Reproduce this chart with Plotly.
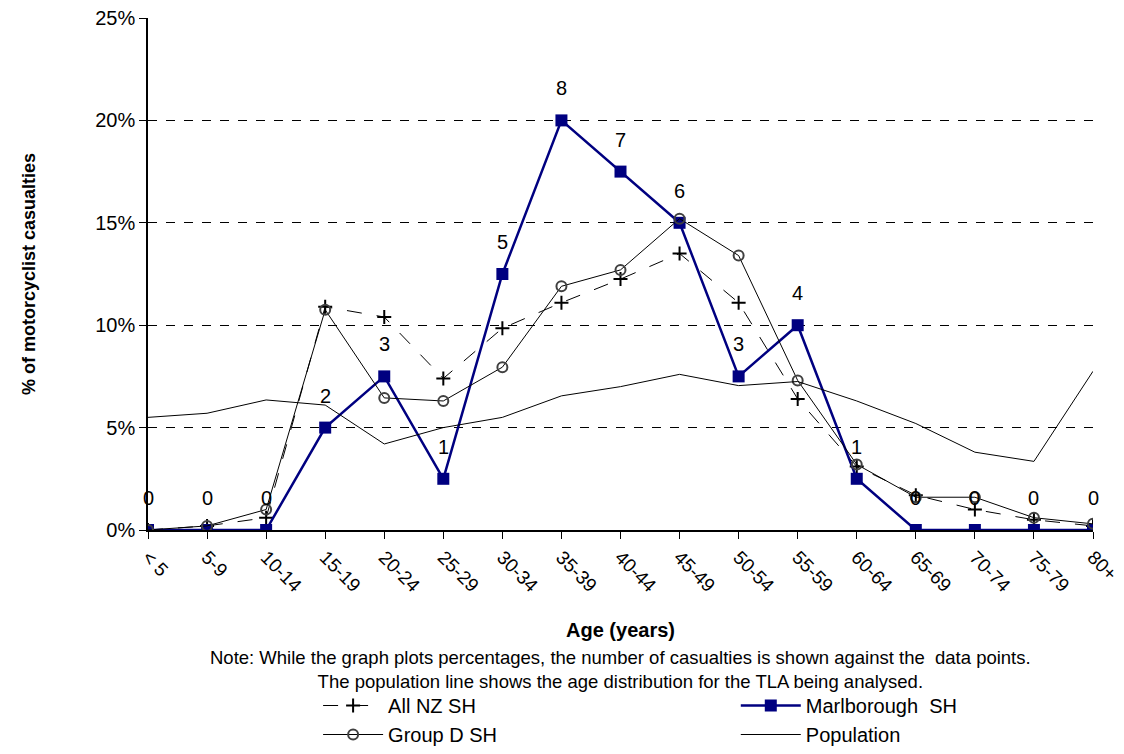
import plotly.graph_objects as go

ages = ["< 5", "5-9", "10-14", "15-19", "20-24", "25-29", "30-34", "35-39", "40-44",
        "45-49", "50-54", "55-59", "60-64", "65-69", "70-74", "75-79", "80+"]

all_nz = [0.0, 0.2, 0.6, 10.9, 10.4, 7.4, 9.85, 11.1, 12.25, 13.5, 11.1, 6.4, 3.1, 1.7, 1.0, 0.5, 0.2]
group_d = [0.0, 0.2, 1.0, 10.75, 6.45, 6.3, 7.95, 11.9, 12.7, 15.2, 13.4, 7.3, 3.2, 1.6, 1.6, 0.6, 0.3]
marlborough = [0, 0, 0, 5, 7.5, 2.5, 12.5, 20, 17.5, 15, 7.5, 10, 2.5, 0, 0, 0, 0]
marl_counts = [0, 0, 0, 2, 3, 1, 5, 8, 7, 6, 3, 4, 1, 0, 0, 0, 0]
population = [5.5, 5.7, 6.35, 6.1, 4.2, 5.0, 5.5, 6.55, 7.0, 7.6, 7.05, 7.25, 6.3, 5.2, 3.8, 3.35, 7.75]

xi = list(range(len(ages)))
font = "Liberation Sans, Arial, sans-serif"

fig = go.Figure()

fig.add_trace(go.Scatter(
    x=xi, y=all_nz, name="All NZ SH", mode="lines+markers", legend="legend",
    line=dict(color="black", width=1, dash="longdash"),
    marker=dict(symbol="cross-thin", size=10, line=dict(color="black", width=2)),
))
fig.add_trace(go.Scatter(
    x=xi, y=marlborough, name="Marlborough  SH", mode="lines+markers", legend="legend2",
    line=dict(color="#000080", width=2.5),
    marker=dict(symbol="square", size=12, color="#000080"),
))
fig.add_trace(go.Scatter(
    x=xi, y=group_d, name="Group D SH", mode="lines+markers", legend="legend",
    line=dict(color="black", width=1),
    marker=dict(symbol="circle-open", size=10, color="#404040", line=dict(width=2)),
))
fig.add_trace(go.Scatter(
    x=xi, y=population, name="Population", mode="lines", legend="legend2",
    line=dict(color="black", width=1),
))

# casualty counts shown above the Marlborough points
count_labels = [
    dict(x=x, y=y, text=str(c), xref="x", yref="y", showarrow=False,
         yshift=32, font=dict(size=20, color="black"))
    for x, y, c in zip(xi, marlborough, marl_counts)
]

note = dict(
    text="Note: While the graph plots percentages, the number of casualties is shown against the  data points.<br>"
         "The population line shows the age distribution for the TLA being analysed.",
    xref="paper", yref="paper", x=0.5, y=-0.225, yanchor="top", showarrow=False,
    font=dict(size=18.5), align="center",
)

legend_style = dict(
    orientation="v", xanchor="left", yref="container", y=0, yanchor="bottom",
    font=dict(size=20), tracegroupgap=0, itemwidth=60, bgcolor="rgba(0,0,0,0)",
)

# page body has an 8px margin, so the figure is 8px smaller than the window
fig.update_layout(
    width=1116, height=746,
    margin=dict(l=140, r=31, t=10, b=224),
    paper_bgcolor="white", plot_bgcolor="white",
    font=dict(family=font, size=18, color="black"),
    xaxis=dict(
        range=[0, 16], tickvals=xi, ticktext=ages, tickangle=45, automargin=False,
        showline=True, linecolor="black", linewidth=1.5, showgrid=False,
        ticks="outside", ticklen=7, tickcolor="black", zeroline=False,
        tickfont=dict(size=19), ticklabeloverflow="allow",
        title=dict(text="<b>Age (years)</b>", font=dict(size=20), standoff=28),
    ),
    yaxis=dict(
        range=[0, 25], tickvals=[0, 5, 10, 15, 20, 25],
        ticktext=["0%", "5%", "10%", "15%", "20%", "25%"], automargin=False,
        showline=True, linecolor="black", linewidth=1.5,
        showgrid=True, gridcolor="black", griddash="dash", gridwidth=1,
        ticks="outside", ticklen=7, tickcolor="black", zeroline=False,
        tickfont=dict(size=20), ticklabeloverflow="allow",
        title=dict(text="<b>% of motorcyclist casualties</b>", font=dict(size=18), standoff=55),
    ),
    showlegend=True,
    legend=dict(x=0.18, **legend_style),
    legend2=dict(x=0.622, **legend_style),
    annotations=count_labels + [note],
)

fig.write_html("out.html")
